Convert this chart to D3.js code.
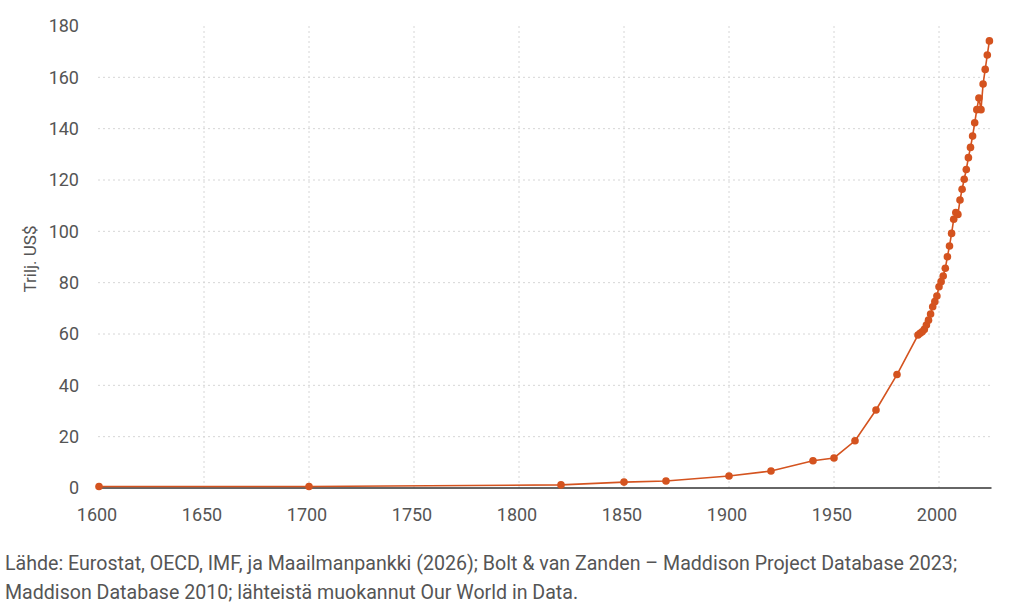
<!DOCTYPE html>
<html>
<head>
<meta charset="utf-8">
<script src="https://cdn.jsdelivr.net/npm/d3@7"></script>
<style>
  body { margin: 0; background: #fff; }
  svg { font-family: Roboto, "Noto Sans", sans-serif; }
</style>
</head>
<body>
<div id="chart"></div>
<script>
const years = [1600, 1700, 1820, 1850, 1870, 1900, 1920, 1940, 1950, 1960, 1970, 1980,
  1990, 1991, 1992, 1993, 1994, 1995, 1996, 1997, 1998, 1999,
  2000, 2001, 2002, 2003, 2004, 2005, 2006, 2007, 2008, 2009,
  2010, 2011, 2012, 2013, 2014, 2015, 2016, 2017, 2018, 2019,
  2020, 2021, 2022, 2023, 2024];
const gdp = [0.6, 0.6, 1.2, 2.3, 2.7, 4.7, 6.6, 10.6, 11.7, 18.4, 30.4, 44.2,
  59.6, 60.3, 60.9, 61.8, 63.5, 65.4, 67.8, 70.6, 72.6, 74.8,
  78.4, 80.4, 82.6, 85.6, 90.1, 94.3, 99.2, 104.7, 107.3, 106.6,
  112.2, 116.4, 120.3, 124.1, 128.7, 132.7, 137.1, 142.3, 147.4, 151.9,
  147.4, 157.4, 163.1, 168.7, 174.2];
const xTicks = [1600, 1650, 1700, 1750, 1800, 1850, 1900, 1950, 2000];
const yTicks = [0, 20, 40, 60, 80, 100, 120, 140, 160, 180];
const yLabel = "Trilj. US$";
const sourceLines = [
  "Lähde: Eurostat, OECD, IMF, ja Maailmanpankki (2026); Bolt & van Zanden – Maddison Project Database 2023;",
  "Maddison Database 2010; lähteistä muokannut Our World in Data."
];

const data = years.map((y, i) => ({ year: y, value: gdp[i] }));

const width = 1024, height = 604;
const color = "#d4531f";

const svg = d3.select("#chart").append("svg")
    .attr("width", width)
    .attr("height", height);

const x = d3.scaleLinear().domain([1600, 2025]).range([99, 991.5]);
const y = d3.scaleLinear().domain([0, 180]).range([488, 26]);

// grid
svg.append("g")
    .selectAll("line")
    .data(yTicks.filter(d => d > 0 && d < 180))
    .join("line")
    .attr("x1", 98).attr("x2", 991.5)
    .attr("y1", d => y(d)).attr("y2", d => y(d))
    .attr("stroke", "#d6d6d6")
    .attr("stroke-dasharray", "2,3");

svg.append("g")
    .selectAll("line")
    .data(xTicks.filter(d => d > 1600))
    .join("line")
    .attr("x1", d => x(d)).attr("x2", d => x(d))
    .attr("y1", y(180)).attr("y2", y(0))
    .attr("stroke", "#d6d6d6")
    .attr("stroke-dasharray", "2,3");

// y axis labels
svg.append("g")
    .selectAll("text")
    .data(yTicks)
    .join("text")
    .attr("x", 79)
    .attr("y", d => y(d))
    .attr("dy", "0.35em")
    .attr("text-anchor", "end")
    .attr("font-size", 18)
    .attr("fill", "#555")
    .text(d => d);

// x axis labels
svg.append("g")
    .selectAll("text")
    .data(xTicks)
    .join("text")
    .attr("x", d => x(d) - 2)
    .attr("y", 515)
    .attr("dy", "0.35em")
    .attr("text-anchor", "middle")
    .attr("font-size", 18)
    .attr("fill", "#555")
    .text(d => d);

// baseline
svg.append("line")
    .attr("x1", 98).attr("x2", 991.5)
    .attr("y1", y(0)).attr("y2", y(0))
    .attr("stroke", "#333")
    .attr("stroke-width", 1.3);

svg.append("text")
    .attr("transform", `translate(36,${(y(0) + y(180)) / 2 + 2}) rotate(-90)`)
    .attr("text-anchor", "middle")
    .attr("font-size", 17)
    .attr("fill", "#555")
    .text(yLabel);

// line + dots
const line = d3.line()
    .x(d => x(d.year))
    .y(d => y(d.value));

svg.append("path")
    .datum(data)
    .attr("fill", "none")
    .attr("stroke", color)
    .attr("stroke-width", 1.6)
    .attr("d", line);

svg.append("g")
    .selectAll("circle")
    .data(data)
    .join("circle")
    .attr("cx", d => x(d.year))
    .attr("cy", d => y(d.value))
    .attr("r", 3.8)
    .attr("fill", color);

// source
svg.append("g")
    .selectAll("text")
    .data(sourceLines)
    .join("text")
    .attr("x", 5)
    .attr("y", (d, i) => 570 + i * 29)
    .attr("font-size", 19.6)
    .attr("fill", "#555")
    .text(d => d);
</script>
</body>
</html>
